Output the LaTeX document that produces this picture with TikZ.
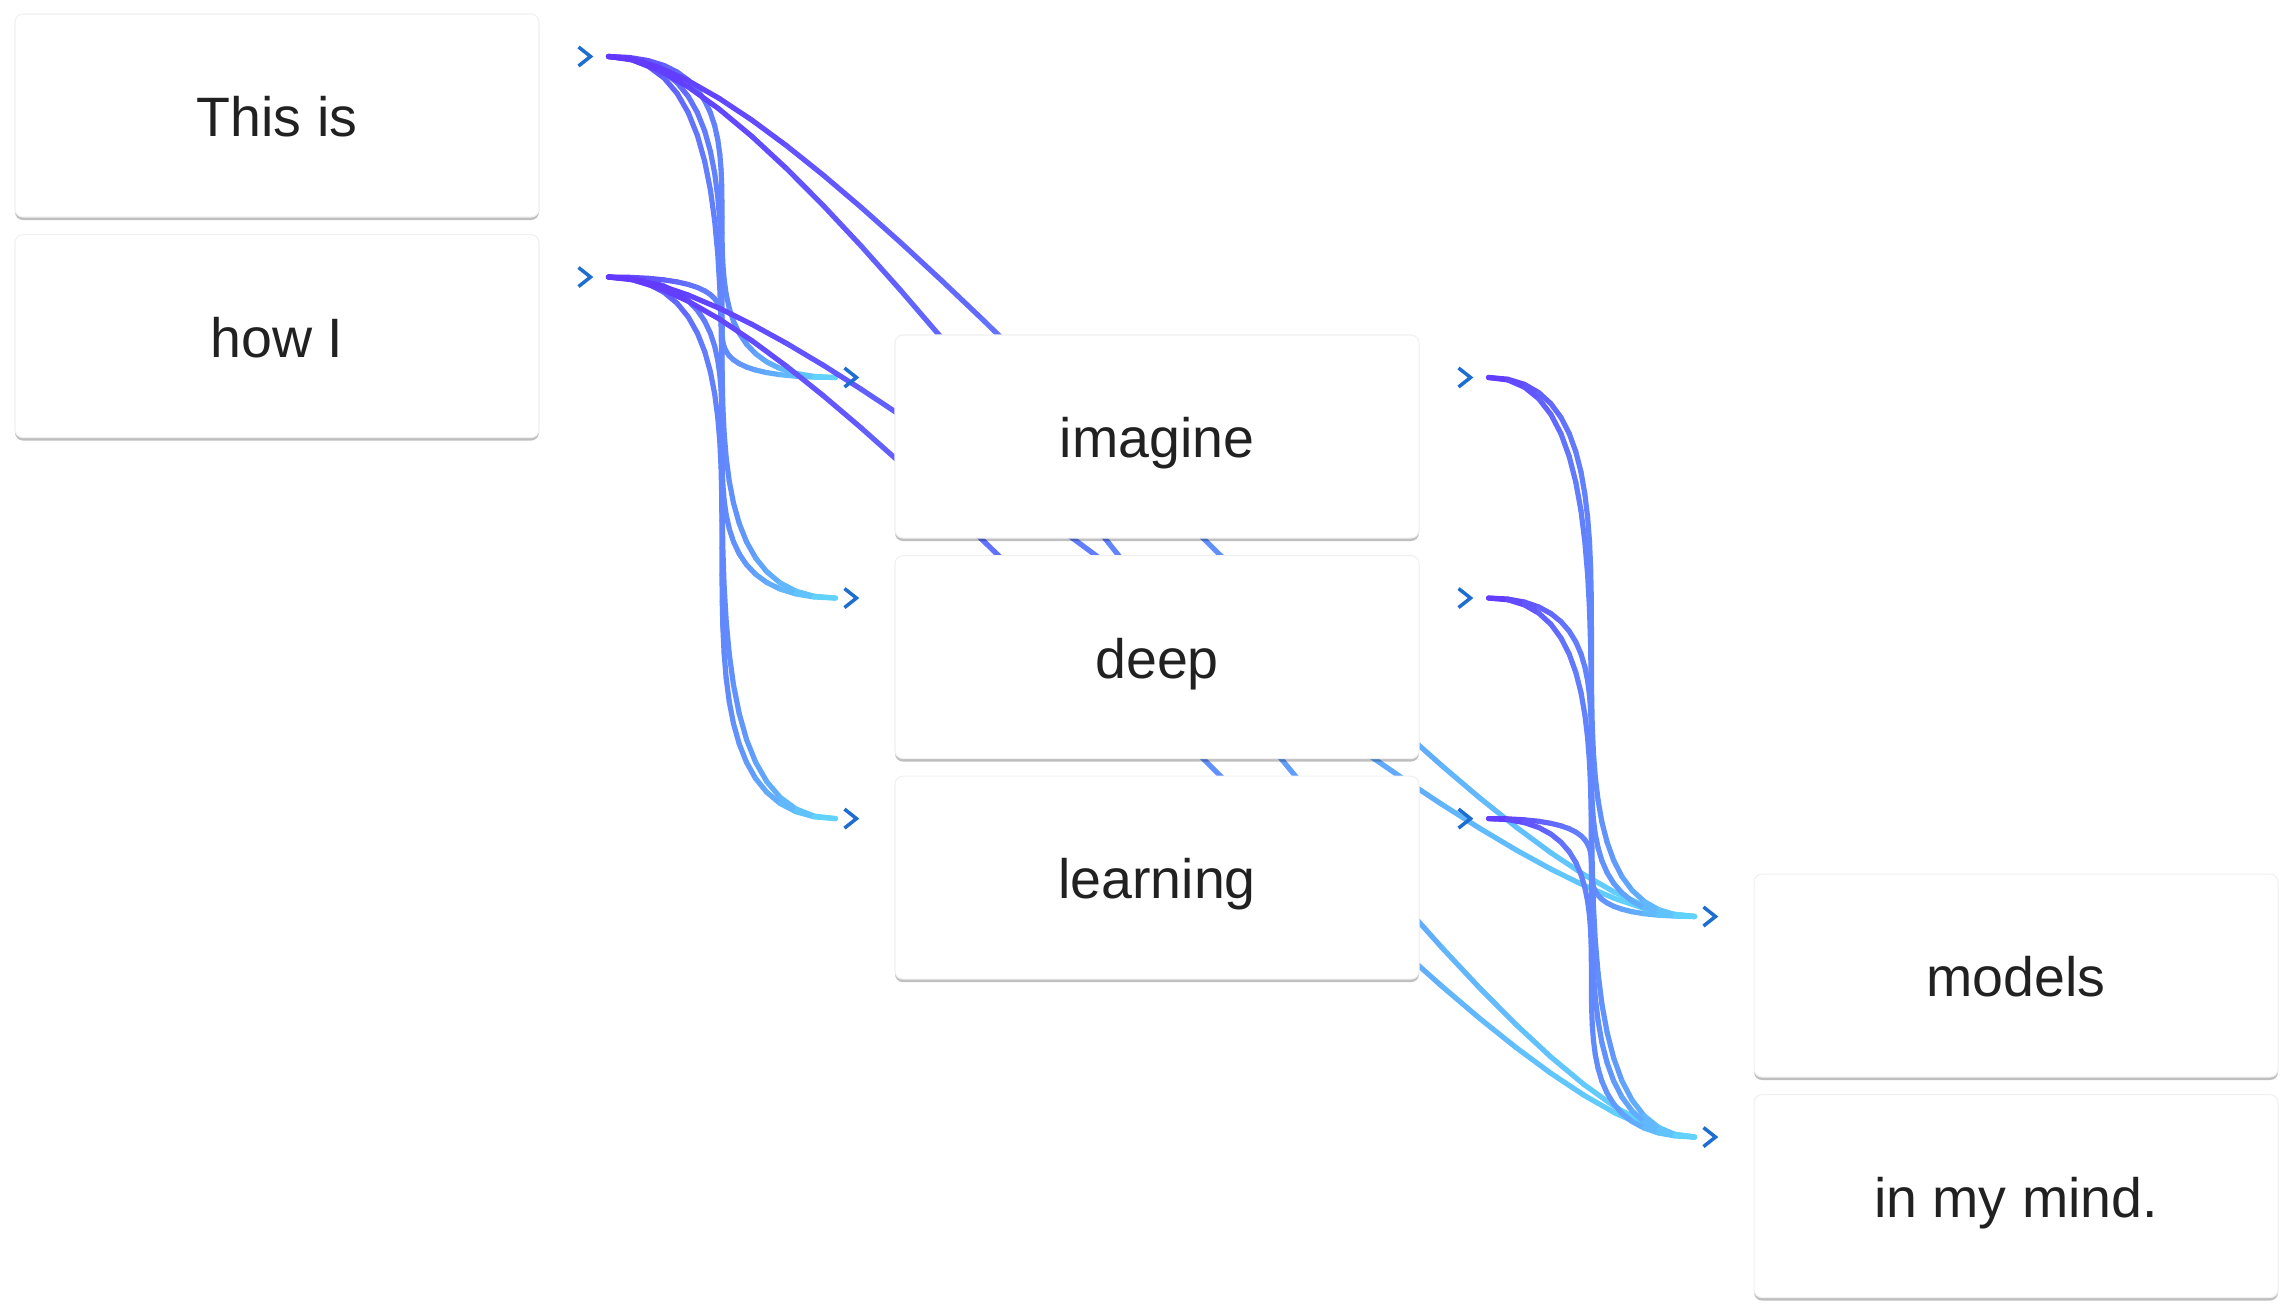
\documentclass[tikz,border=0pt]{standalone}
\usepackage{fontspec}
\setmainfont{Liberation Sans}
\usetikzlibrary{calc,positioning,shadows,backgrounds}

\definecolor{strandA}{RGB}{98,54,255}
\definecolor{strandB}{RGB}{97,218,251}
\definecolor{chev}{RGB}{30,110,210}
\definecolor{ink}{RGB}{33,33,33}

\tikzset{
	word/.style={fill=white, draw=black!6, line width=0.3pt, rounded corners=0.08cm,
		minimum width=5.24cm, minimum height=2.03cm, text=ink,
		text height=0.42cm, text depth=0cm, font=\fontsize{15.8}{18}\selectfont,
		drop shadow={shadow xshift=0cm, shadow yshift=-0.03cm, opacity=0.25, fill=black}},
	strand/.style={line width=0.052cm, line cap=round},
	chevron/.style={draw=chev, line width=0.035cm},
}

% point of the strand curve at time #1 -> \px, \py
\newcommand{\strandpt}[1]{%
	\pgfmathsetmacro{\px}{(1-#1)^3*\sxa + 3*(1-#1)^2*#1*(\sxa+\ctl) + 3*(1-#1)*#1^2*(\exa-\ctl) + #1^3*\exa}%
	\pgfmathsetmacro{\py}{((1-#1)^3+3*(1-#1)^2*#1)*\sya + (3*(1-#1)*#1^2+#1^3)*\eya}%
}
% strand from coordinate #1 to coordinate #2, coloured from left to right
\newcommand{\strand}[2]{%
	\pgfpointanchor{#1}{center}\pgfgetlastxy{\sxa}{\sya}%
	\pgfpointanchor{#2}{center}\pgfgetlastxy{\exa}{\eya}%
	\pgfmathsetmacro{\ctl}{min(\exa-\sxa,64.6)}%
	\foreach \k in {1,...,30}{%
		\pgfmathsetmacro{\ta}{(\k-1)/30}%
		\pgfmathsetmacro{\tb}{\k/30}%
		\strandpt{\ta}\let\xa\px\let\ya\py
		\strandpt{\tb}%
		\pgfmathsetmacro{\frac}{((\xa+\px)/2-\sxa)/(\exa-\sxa)}%
		\pgfmathtruncatemacro{\pct}{100*\frac}%
		\draw[strand, color=strandB!\pct!strandA] (\xa pt,\ya pt) -- (\px pt,\py pt);
	}%
}

\begin{document}
\begin{tikzpicture}
	\pgfmathsetmacro{\gap}{0.165}
	\useasboundingbox (0,0) rectangle (22.96,-13.12);

	% words
	\node[word] (this) at (2.77,-1.155) {This is};
	\node[word, below=\gap cm of this] (how) {how I};
	\node[word] (imagine) at (11.57,-4.365) {imagine};
	\node[word, below=\gap cm of imagine] (deep) {deep};
	\node[word, below=\gap cm of deep] (learning) {learning};
	\node[word] (models) at (20.16,-9.755) {models};
	\node[word, below=\gap cm of models] (mind) {in my mind.};

	% ends of the strands and chevrons
	\foreach \n in {this,how,imagine,deep,learning}{
		\coordinate (\n-out) at ($(\n.north east)+(0.69,-0.43)$);
		\coordinate (\n-cout) at ($(\n.north east)+(0.45,-0.43)$);
	}
	\foreach \n in {imagine,deep,learning,models,mind}{
		\coordinate (\n-in) at ($(\n.north west)+(-0.59,-0.43)$);
		\coordinate (\n-cin) at ($(\n.north west)+(-0.44,-0.43)$);
	}
	\foreach \c in {this-cout,how-cout,imagine-cout,deep-cout,learning-cout,imagine-cin,deep-cin,learning-cin,models-cin,mind-cin}
		\draw[chevron] (\c) ++(-0.06,0.095) -- ++(0.12,-0.095) -- ++(-0.12,-0.095);

	\begin{scope}[on background layer]
		\foreach \a in {this,how}
			\foreach \b in {imagine,deep,learning,models,mind}
				\strand{\a-out}{\b-in};
		\foreach \a in {imagine,deep,learning}
			\foreach \b in {models,mind}
				\strand{\a-out}{\b-in};
	\end{scope}
\end{tikzpicture}
\end{document}
